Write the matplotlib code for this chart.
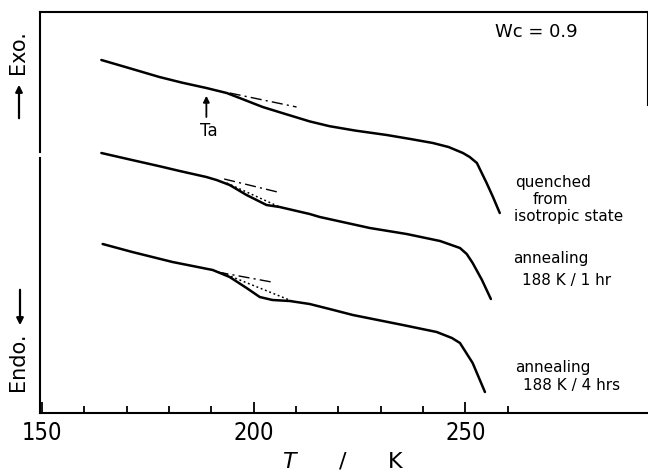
# -*- coding: utf-8 -*-
"""
DSC traces, Wc = 0.9: quenched and annealed samples.
"""

# %% Imports
import matplotlib
matplotlib.use("Agg")
import matplotlib.pyplot as plt
from matplotlib.ticker import FixedLocator

# %% Data (temperature in K, heat flow in arbitrary units)
t_quenched = [164.0, 170.0, 177.7, 183.0, 188.8, 193.6, 197.5, 202.1, 207.0,
              213.2, 217.9, 224.0, 231.4, 237.0, 242.3, 246.0, 249.4, 251.0,
              252.7, 255.0, 256.5, 258.1]
hf_quenched = [88.25, 86.4, 84.0, 82.6, 81.25, 80.0, 78.4, 76.5, 74.9,
               72.9, 71.7, 70.6, 69.5, 68.5, 67.5, 66.5, 65.0, 64.0,
               62.5, 57.5, 54.0, 50.0]

t_ann1h = [164.0, 170.6, 177.7, 182.5, 188.8, 191.2, 194.3, 198.3, 203.0,
           206.1, 213.2, 215.6, 227.4, 236.1, 244.0, 248.7, 250.3, 251.7,
           253.9, 256.0]
hf_ann1h = [65.0, 63.4, 61.7, 60.5, 59.0, 58.25, 57.0, 54.5, 52.0,
            51.5, 49.75, 49.0, 46.25, 44.75, 43.0, 41.25, 39.75, 37.5,
            33.25, 28.5]

t_ann4h = [164.3, 171.3, 180.8, 190.3, 194.3, 198.3, 201.4, 204.4, 208.5,
           213.2, 217.9, 223.4, 235.2, 243.2, 246.8, 248.7, 251.7, 254.6]
hf_ann4h = [42.25, 40.25, 37.75, 35.75, 34.0, 31.25, 29.0, 28.25, 28.0,
            27.25, 26.0, 24.5, 22.0, 20.25, 18.75, 17.5, 12.5, 5.25]

# extrapolated baselines (dash-dot) and step constructions (dotted)
base_t = [[194.3, 210.1], [193.0, 205.6], [191.4, 204.2]]
base_hf = [[80.0, 76.5], [58.5, 55.25], [35.25, 32.75]]
step_t = [[193.6, 206.1], [192.6, 209.6]]
step_hf = [[57.5, 51.5], [35.0, 27.75]]

ta_temp = 188.8
major_ticks = [150, 200, 250]
minor_ticks = [160, 170, 180, 190, 210, 220, 230, 240, 260]

W, H = 648, 473


def fpos(x, y):
    # pixel position -> figure fraction
    return x / W, 1 - y / H


# %% Plot
fig = plt.figure(figsize=(6.48, 4.73), dpi=100)
ax = fig.add_axes([40 / W, 60 / H, 607.5 / W, 401 / H])

lw = 1.8
for t, hf in [(t_quenched, hf_quenched), (t_ann1h, hf_ann1h), (t_ann4h, hf_ann4h)]:
    ax.plot(t, hf, color="black", lw=lw, solid_capstyle="round",
            solid_joinstyle="round")
for t, hf in zip(base_t, base_hf):
    ax.plot(t, hf, color="black", lw=1.0, linestyle=(0, (8, 3, 1.5, 3)))
for t, hf in zip(step_t, step_hf):
    ax.plot(t, hf, color="black", lw=1.1, linestyle=(0, (1.2, 1.8)))

ax.set_xlim(149.5, 293.0)
ax.set_ylim(0, 100.25)

# Ta arrow
ax.annotate("", xy=(ta_temp, 79.3), xytext=(ta_temp, 74.0),
            arrowprops=dict(arrowstyle="-|>", color="black", lw=1.3,
                            mutation_scale=9, shrinkA=0, shrinkB=0))
ax.text(ta_temp + 0.6, 70.6, "Ta", ha="center", va="center", fontsize=12)

# spines
for s in ["left", "right", "top", "bottom"]:
    ax.spines[s].set_linewidth(1.5)
ax.spines["right"].set_bounds(77.0, 100.25)
ax.spines["left"].set_bounds(0, 63.75)
ax.axvline(149.5, ymin=(413 - 152) / 401, ymax=1, color="black", lw=1.5,
           clip_on=False)

# ticks
ax.xaxis.set_major_locator(FixedLocator(major_ticks))
ax.xaxis.set_minor_locator(FixedLocator(minor_ticks))
ax.tick_params(axis="x", which="major", direction="in", length=8, width=1.3,
               pad=6)
ax.tick_params(axis="x", which="minor", direction="in", length=5, width=1.3)
ax.set_yticks([])
for lab in ax.get_xticklabels():
    lab.set_fontfamily("DejaVu Sans")
    lab.set_fontstretch("condensed")
    lab.set_fontsize(17)

ax.set_xlabel(r"$T$      /      K", fontsize=16, labelpad=4)

# texts
fig.text(*fpos(495, 32), "Wc = 0.9", fontsize=13, va="center", ha="left")
fig.text(*fpos(515, 182), "quenched", fontsize=11, va="center")
fig.text(*fpos(533, 199), "from", fontsize=11, va="center")
fig.text(*fpos(514, 217), "isotropic state", fontsize=11, va="center")
fig.text(*fpos(513, 259), "annealing", fontsize=11, va="center")
fig.text(*fpos(522, 280), "188 K / 1 hr", fontsize=11, va="center")
fig.text(*fpos(515, 367), "annealing", fontsize=11, va="center")
fig.text(*fpos(523, 385), "188 K / 4 hrs", fontsize=11, va="center")

fig.text(*fpos(18, 52), "Exo.", fontsize=15, rotation=90, ha="center",
         va="center")
fig.text(*fpos(18, 362), "Endo.", fontsize=15, rotation=90, ha="center",
         va="center")
fig.add_artist(matplotlib.patches.FancyArrowPatch(
    fpos(19, 121), fpos(19, 82), transform=fig.transFigure,
    arrowstyle="-|>", mutation_scale=10, color="black", lw=1.6))
fig.add_artist(matplotlib.patches.FancyArrowPatch(
    fpos(20, 287), fpos(20, 328), transform=fig.transFigure,
    arrowstyle="-|>", mutation_scale=10, color="black", lw=1.6))

fig.savefig("out.png", dpi=100)
